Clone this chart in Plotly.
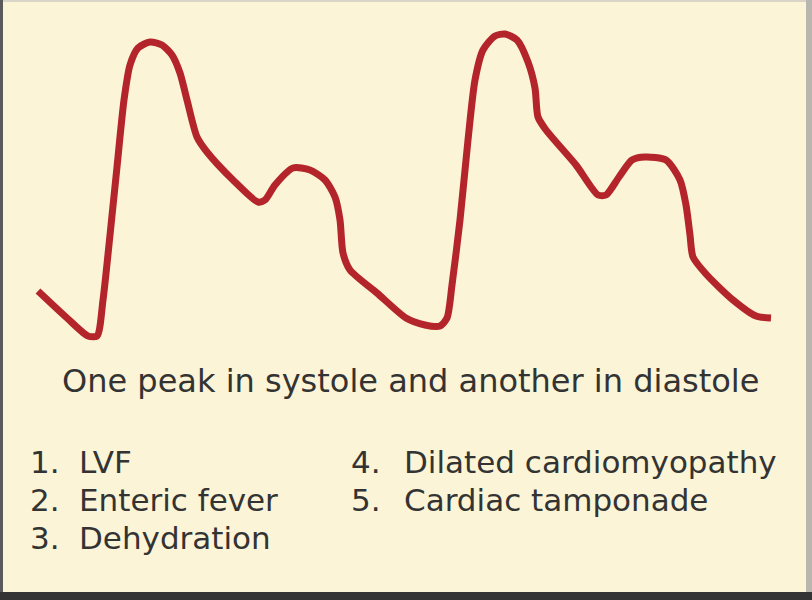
import plotly.graph_objects as go

# Dicrotic pulse waveform (time in arbitrary units, amplitude in arbitrary units)
time_pts = [38, 67, 88, 97, 103, 110, 117, 124, 130, 138, 150, 162, 172, 180, 187, 197, 207, 233, 258, 265,
            275, 293, 310, 325, 335, 340, 343, 350, 377, 406, 425, 440, 447, 452, 460, 468, 475, 483, 495, 505,
            517, 528, 535, 538, 546, 576, 598, 606, 619, 632, 645, 666, 680, 686, 690, 693, 706, 733, 756, 771]
amp_pts = [309, 282, 264, 264, 300, 365, 433, 500, 535, 552, 558, 555, 545, 527, 500, 463, 448, 420, 398, 400,
           415, 432, 430, 420, 403, 380, 347, 330, 307, 282, 275, 274, 282, 315, 380, 460, 520, 550, 564, 566,
           560, 538, 512, 483, 470, 435, 405, 405, 423, 440, 443, 440, 420, 395, 365, 343, 326, 300, 284, 282]

heading = "One peak in systole and another in diastole"
numbers_col1 = ["1.", "2.", "3."]
items_col1 = ["LVF", "Enteric fever", "Dehydration"]
numbers_col2 = ["4.", "5."]
items_col2 = ["Dilated cardiomyopathy", "Cardiac tamponade"]

BG = "#fbf4d6"
RED = "#b3252a"
TXT = "#333333"
FONT = "DejaVu Sans"

fig = go.Figure()
fig.add_trace(go.Scatter(
    x=time_pts, y=amp_pts, mode="lines",
    line=dict(color=RED, width=7, shape="spline", smoothing=0.7),
    hoverinfo="skip", showlegend=False,
))

annotations = [dict(x=410, y=219, text=heading, showarrow=False, xanchor="center", yanchor="middle",
                    font=dict(family=FONT, size=32, color=TXT))]
row_y = [138, 100, 62]
for i, (n, t) in enumerate(zip(numbers_col1, items_col1)):
    annotations.append(dict(x=28, y=row_y[i], text=n, showarrow=False, xanchor="left", yanchor="middle",
                            font=dict(family=FONT, size=31, color=TXT)))
    annotations.append(dict(x=77, y=row_y[i], text=t, showarrow=False, xanchor="left", yanchor="middle",
                            font=dict(family=FONT, size=31, color=TXT)))
for i, (n, t) in enumerate(zip(numbers_col2, items_col2)):
    annotations.append(dict(x=349, y=row_y[i], text=n, showarrow=False, xanchor="left", yanchor="middle",
                            font=dict(family=FONT, size=31, color=TXT)))
    annotations.append(dict(x=402, y=row_y[i], text=t, showarrow=False, xanchor="left", yanchor="middle",
                            font=dict(family=FONT, size=31, color=TXT)))

shapes = [
    dict(type="rect", xref="paper", yref="paper", x0=0, x1=1, y0=1 - 2 / 600, y1=1,
         fillcolor="#d8d4c8", line=dict(width=0), layer="above"),
    dict(type="rect", xref="paper", yref="paper", x0=0, x1=3 / 812, y0=0, y1=1,
         fillcolor="#5a5a5a", line=dict(width=0), layer="above"),
    dict(type="rect", xref="paper", yref="paper", x0=1 - 6 / 812, x1=1, y0=0, y1=1,
         fillcolor="#b8b6ae", line=dict(width=0), layer="above"),
    dict(type="rect", xref="paper", yref="paper", x0=0, x1=1, y0=0, y1=8 / 600,
         fillcolor="#343434", line=dict(width=0), layer="above"),
]

fig.update_layout(
    width=812, height=600,
    margin=dict(l=0, r=0, t=0, b=0),
    paper_bgcolor=BG, plot_bgcolor=BG,
    xaxis=dict(range=[0, 812], visible=False, fixedrange=True),
    yaxis=dict(range=[0, 600], visible=False, fixedrange=True),
    annotations=annotations,
    shapes=shapes,
    showlegend=False,
)

fig.write_html(
    "out.html",
    config={"displayModeBar": False},
    post_script="document.body.style.margin='0';document.body.style.overflow='hidden';",
)
